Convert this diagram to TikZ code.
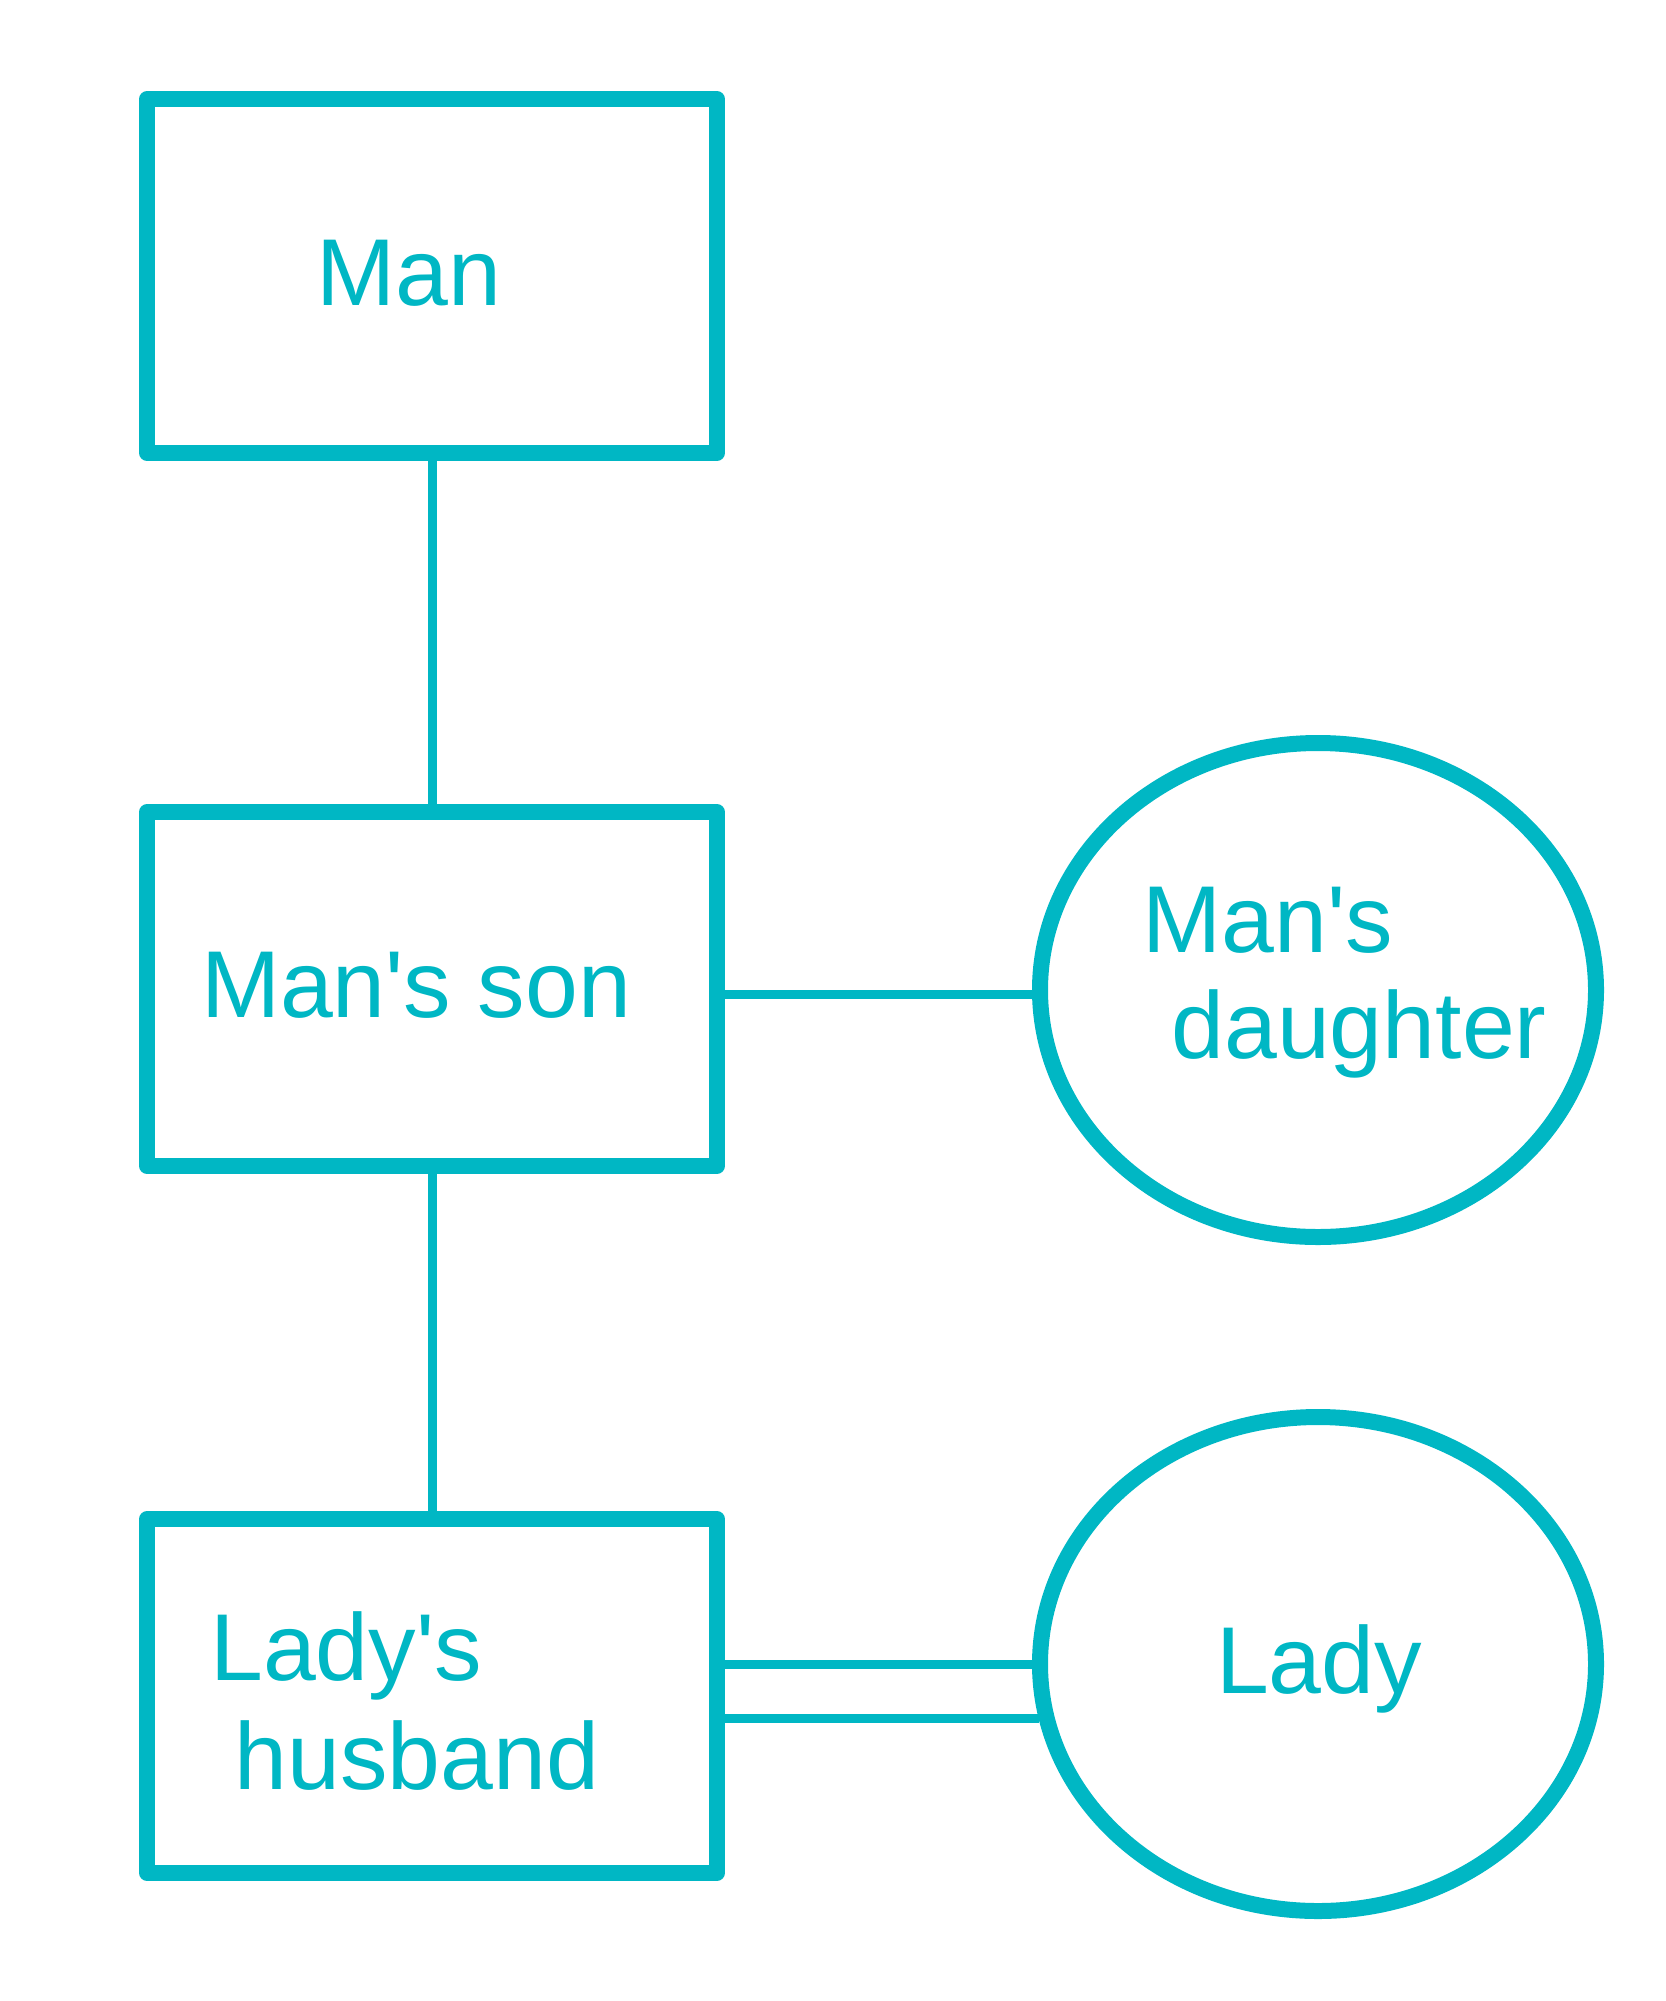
\documentclass[tikz,border=0pt]{standalone}
\usepackage{fontspec}
\newfontfamily\lib{Liberation Sans}
\usetikzlibrary{shapes.geometric}
\definecolor{tb}{RGB}{0,183,196}
\begin{document}
\begin{tikzpicture}[x=1pt,y=-1pt,
  box/.style={draw=tb,line width=15.5pt,line join=round,minimum width=570pt,minimum height=354pt,inner sep=0pt},
  oval/.style={draw=tb,ellipse,line width=16pt,minimum width=556pt,minimum height=494pt,inner sep=0pt},
  lbl/.style={text=tb,anchor=base,inner sep=0pt,font=\lib\fontsize{95}{106}\selectfont},
  link/.style={draw=tb,line width=9pt}]
\useasboundingbox (0,0) rectangle (1665,2001);
% boxes and ovals
\node[box] (man)  at (432,276)  {};
\node[box] (son)  at (432,989)  {};
\node[box] (husb) at (432,1696) {};
\node[oval] (dau)  at (1318,990)  {};
\node[oval] (lady) at (1318,1664) {};
% labels
\node[lbl] (tman)  at (409,305)   {Man};
\node[lbl] (tson)  at (416,1017)  {Man's son};
\node[lbl] (tdau1) at (1268,952)  {Man's};
\node[lbl] (tdau2) at (1359,1058) {daughter};
\node[lbl] (thus1) at (346,1680)  {Lady's};
\node[lbl] (thus2) at (417,1789)  {husband};
\node[lbl] (tlady) at (1319,1693) {Lady};
% connectors
\draw[link] (man.south) -- (son.north);
\draw[link] (son.south) -- (husb.north);
\draw[link] (son.east |- dau.181) -- (dau.181);
\draw[link] (husb.east |- lady.180.5) -- (lady.180.5);
\draw[link] (husb.east |- lady.191.2) -- (lady.191.2);
\end{tikzpicture}
\end{document}
